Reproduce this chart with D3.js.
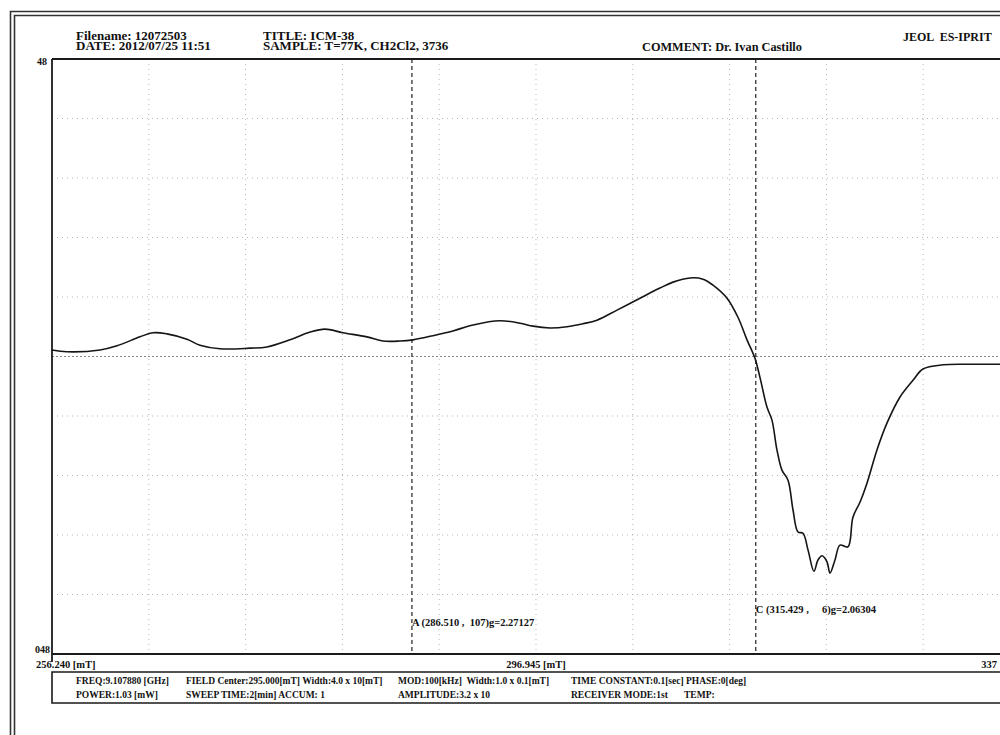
<!DOCTYPE html>
<html>
<head>
<meta charset="utf-8">
<script src="https://cdn.jsdelivr.net/npm/d3@7"></script>
<style>
  html, body { margin: 0; padding: 0; background: #fff; }
  svg { display: block; }
  text { font-family: "Liberation Serif", "Times New Roman", serif; fill: #111; white-space: pre; }
</style>
</head>
<body>
<svg id="chart" width="1000" height="735"></svg>
<script>
// ---------------- data ----------------
const fieldMT = [256.24, 257.50, 260.28, 261.71, 263.64, 264.73, 265.91, 267.59, 268.69, 270.37,
  272.89, 274.32, 276.26, 277.94, 279.20, 280.71, 282.73, 284.08, 285.51, 286.60,
  288.28, 289.96, 291.65, 293.92, 295.60, 296.69, 298.12, 299.55, 300.90, 302.07,
  303.76, 305.69, 307.37, 308.47, 309.90, 310.99, 311.83, 313.01, 313.93, 314.69,
  315.36, 315.78, 316.37, 316.79, 317.21, 317.63, 318.14, 318.56, 318.98, 319.40,
  319.82, 320.32, 320.66, 321.00, 321.42, 321.67, 322.09, 322.51, 323.18, 323.60,
  324.19, 324.78, 325.62, 326.46, 327.56, 328.65, 329.49, 331.17, 333.19, 335.71, 337.65];
const signal = [0.11, 0.08, 0.11, 0.18, 0.33, 0.40, 0.38, 0.29, 0.19, 0.13,
  0.14, 0.16, 0.28, 0.41, 0.46, 0.40, 0.33, 0.26, 0.26, 0.28,
  0.35, 0.43, 0.53, 0.60, 0.56, 0.51, 0.48, 0.50, 0.55, 0.61,
  0.78, 0.98, 1.15, 1.25, 1.32, 1.30, 1.20, 0.98, 0.66, 0.28,
  -0.03, -0.35, -0.85, -1.07, -1.57, -1.91, -2.08, -2.58, -2.95, -2.97,
  -3.25, -3.61, -3.42, -3.35, -3.45, -3.64, -3.42, -3.17, -3.20, -2.70,
  -2.45, -2.13, -1.57, -1.12, -0.68, -0.40, -0.21, -0.14, -0.13, -0.13, -0.12];

const xDomain = [256.240, 337.650];
const yDomain = [-5, 5];
const gridDivisions = 10;

const yTickLabels = ["48", "048"];
const xTickLabels = ["256.240 [mT]", "296.945 [mT]", "337"];

const markerFields = [286.510, 315.429];
const markerLabels = ["A (286.510 ,  107)g=2.27127", "C (315.429 ,     6)g=2.06304"];

const headerLeft = ["Filename: 12072503", "DATE: 2012/07/25 11:51"];
const headerMid = ["TITLE: ICM-38", "SAMPLE: T=77K, CH2Cl2, 3736"];
const headerComment = "COMMENT: Dr. Ivan Castillo";
const headerBrand = "JEOL  ES-IPRIT";

const infoRow1 = ["FREQ:9.107880 [GHz]", "FIELD Center:295.000[mT] Width:4.0 x 10[mT]",
  "MOD:100[kHz]  Width:1.0 x 0.1[mT]", "TIME CONSTANT:0.1[sec] PHASE:0[deg]"];
const infoRow2 = ["POWER:1.03 [mW]", "SWEEP TIME:2[min] ACCUM: 1",
  "AMPLITUDE:3.2 x 10", "RECEIVER MODE:1st", "TEMP:"];

// ---------------- layout ----------------
const svg = d3.select("#chart");
const plot = { left: 52, right: 1020, top: 59, bottom: 654 };

const x = d3.scaleLinear().domain(xDomain).range([plot.left, plot.right]);
const y = d3.scaleLinear().domain(yDomain).range([plot.bottom, plot.top]);

// outer double border
const outer = svg.append("g").attr("fill", "none").attr("stroke", "#333").attr("stroke-width", 1.6);
outer.append("path").attr("d", "M10.5,735 V11.5 H1000");
outer.append("path").attr("d", "M14.5,735 V15.5 H1000");

// grid
const gx = d3.range(1, gridDivisions).map(i => xDomain[0] + i * (xDomain[1] - xDomain[0]) / gridDivisions);
const gy = d3.range(yDomain[0] + 1, yDomain[1]);

svg.append("g").selectAll("line").data(gx).join("line")
  .attr("x1", d => x(d)).attr("x2", d => x(d))
  .attr("y1", plot.top).attr("y2", plot.bottom)
  .attr("stroke", "#b5b5b5").attr("stroke-width", 1).attr("stroke-dasharray", "1,4");

svg.append("g").selectAll("line").data(gy).join("line")
  .attr("x1", plot.left).attr("x2", 1000)
  .attr("y1", d => y(d)).attr("y2", d => y(d))
  .attr("stroke", d => d === 0 ? "#888" : "#b5b5b5")
  .attr("stroke-width", 1)
  .attr("stroke-dasharray", d => d === 0 ? "2,2" : "1,4");

// marker dashed lines
svg.append("g").selectAll("line").data(markerFields).join("line")
  .attr("x1", d => x(d)).attr("x2", d => x(d))
  .attr("y1", plot.top).attr("y2", plot.bottom)
  .attr("stroke", "#222").attr("stroke-width", 1.2).attr("stroke-dasharray", "4,3");

// frame
const frame = svg.append("g").attr("fill", "none").attr("stroke", "#1a1a1a");
frame.append("path").attr("d", `M${plot.left},${plot.top} H1000`).attr("stroke-width", 2);
frame.append("path").attr("d", `M${plot.left},${plot.top} V${plot.bottom + 8}`).attr("stroke-width", 1.8);
frame.append("path").attr("d", `M${plot.left},${plot.bottom} H1000`).attr("stroke-width", 2);

// curve
const pts = fieldMT.map((f, i) => [f, signal[i]]);
const line = d3.line().x(d => x(d[0])).y(d => y(d[1])).curve(d3.curveCatmullRom.alpha(0.5));
svg.append("path").datum(pts).attr("d", line)
  .attr("fill", "none").attr("stroke", "#151515").attr("stroke-width", 1.6);

// y labels
svg.append("text").attr("x", 47).attr("y", plot.top + 6).attr("text-anchor", "end")
  .attr("font-size", 10).attr("font-weight", "bold").text(yTickLabels[0]);
svg.append("text").attr("x", 50).attr("y", plot.bottom - 1).attr("text-anchor", "end")
  .attr("font-size", 10).attr("font-weight", "bold").text(yTickLabels[1]);

// x labels
svg.append("text").attr("x", 36).attr("y", plot.bottom + 14)
  .attr("font-size", 10.5).attr("font-weight", "bold").text(xTickLabels[0]);
svg.append("text").attr("x", x((xDomain[0] + xDomain[1]) / 2)).attr("y", plot.bottom + 14)
  .attr("text-anchor", "middle").attr("font-size", 10.5).attr("font-weight", "bold").text(xTickLabels[1]);
svg.append("text").attr("x", 997).attr("y", plot.bottom + 14)
  .attr("text-anchor", "end").attr("font-size", 10.5).attr("font-weight", "bold").text(xTickLabels[2]);

// marker labels
svg.append("text").attr("x", x(markerFields[0])).attr("y", plot.bottom - 28)
  .attr("font-size", 10.5).attr("font-weight", "bold").text(markerLabels[0]);
svg.append("text").attr("x", x(markerFields[1])).attr("y", plot.bottom - 41)
  .attr("font-size", 10.5).attr("font-weight", "bold").text(markerLabels[1]);

// header
const hdr = svg.append("g").attr("font-size", 13).attr("font-weight", "bold");
hdr.append("text").attr("x", 76).attr("y", 39.5).text(headerLeft[0]);
hdr.append("text").attr("x", 76).attr("y", 50).text(headerLeft[1]);
hdr.append("text").attr("x", 263).attr("y", 39.5).text(headerMid[0]);
hdr.append("text").attr("x", 263).attr("y", 50).text(headerMid[1]);
hdr.append("text").attr("x", 642).attr("y", 50.5).attr("font-size", 12.3).text(headerComment);
hdr.append("text").attr("x", 903).attr("y", 41).attr("font-size", 12).text(headerBrand);

// info box
svg.append("path").attr("d", `M1000,672 H${plot.left} V703 H1000`)
  .attr("fill", "none").attr("stroke", "#1a1a1a").attr("stroke-width", 1.6);

const info = svg.append("g").attr("font-size", 9.5).attr("font-weight", "bold");
const colX = [76, 186, 398, 571, 684];
infoRow1.forEach((t, i) => info.append("text").attr("x", colX[i]).attr("y", 684).text(t));
infoRow2.forEach((t, i) => info.append("text").attr("x", colX[i]).attr("y", 698).text(t));
</script>
</body>
</html>
